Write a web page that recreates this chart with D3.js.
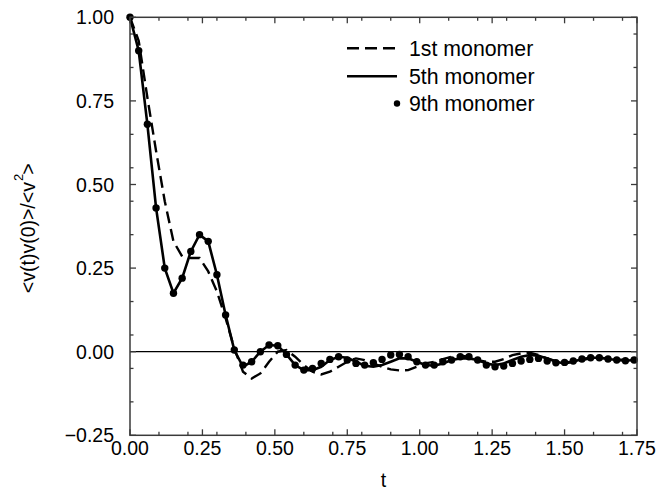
<!DOCTYPE html>
<html>
<head>
<meta charset="utf-8">
<script src="https://cdn.jsdelivr.net/npm/d3@7"></script>
<style>
  html, body { margin: 0; padding: 0; background: #fff; }
  svg { display: block; font-family: "Liberation Sans", Arial, Helvetica, sans-serif; }
</style>
</head>
<body>
<svg id="chart" width="661" height="493"></svg>
<script>
// Sampling times (dt = 0.03)
const times = [0.00,0.03,0.06,0.09,0.12,0.15,0.18,0.21,0.24,0.27,0.30,0.33,0.36,0.39,0.42,0.45,0.48,0.51,0.54,0.57,
               0.60,0.63,0.66,0.69,0.72,0.75,0.78,0.81,0.84,0.87,0.90,0.93,0.96,0.99,1.02,1.05,1.08,1.11,1.14,1.17,
               1.20,1.23,1.26,1.29,1.32,1.35,1.38,1.41,1.44,1.47,1.50,1.53,1.56,1.59,1.62,1.65,1.68,1.71,1.74];

// Normalised velocity autocorrelation of three monomers
const first = [1.00,0.93,0.76,0.60,0.45,0.33,0.285,0.28,0.28,0.24,0.18,0.10,0.01,-0.06,-0.08,-0.065,-0.03,0.00,0.005,-0.015,
               -0.04,-0.06,-0.068,-0.06,-0.045,-0.03,-0.02,-0.025,-0.035,-0.045,-0.053,-0.056,-0.055,-0.045,-0.035,-0.03,-0.022,-0.015,-0.012,-0.015,
               -0.025,-0.03,-0.03,-0.022,-0.01,-0.005,-0.003,-0.01,-0.02,-0.028,-0.032,-0.03,-0.025,-0.02,-0.018,-0.02,-0.023,-0.025,-0.025];

const fifth = [1.00,0.90,0.68,0.43,0.25,0.175,0.22,0.30,0.35,0.33,0.23,0.11,0.005,-0.045,-0.03,0.00,0.02,0.018,-0.008,-0.04,
               -0.055,-0.055,-0.045,-0.025,-0.015,-0.018,-0.03,-0.042,-0.045,-0.04,-0.03,-0.02,-0.02,-0.03,-0.04,-0.042,-0.035,-0.025,-0.02,-0.02,
               -0.025,-0.035,-0.04,-0.035,-0.025,-0.015,-0.01,-0.012,-0.02,-0.03,-0.035,-0.03,-0.022,-0.018,-0.018,-0.022,-0.025,-0.027,-0.025];

const ninth = [1.00,0.90,0.68,0.43,0.25,0.175,0.22,0.30,0.35,0.33,0.23,0.11,0.005,-0.04,-0.03,0.00,0.02,0.018,-0.008,-0.04,
               -0.055,-0.05,-0.035,-0.023,-0.015,-0.025,-0.035,-0.04,-0.033,-0.023,-0.01,-0.008,-0.015,-0.03,-0.04,-0.04,-0.03,-0.025,-0.015,-0.015,
               -0.025,-0.04,-0.045,-0.043,-0.035,-0.028,-0.023,-0.02,-0.028,-0.033,-0.032,-0.028,-0.022,-0.018,-0.018,-0.022,-0.025,-0.027,-0.025];

// Axis ticks
const xMajor = [0, 0.25, 0.5, 0.75, 1.0, 1.25, 1.5, 1.75];
const xMinor = [0.1,0.2,0.3,0.4,0.6,0.7,0.8,0.9,1.1,1.2,1.3,1.4,1.6,1.7];
const yMajor = [-0.25, 0, 0.25, 0.5, 0.75, 1.0];
const yMinor = [-0.15,-0.05,0.05,0.15,0.35,0.45,0.55,0.65,0.85,0.95];

const legendItems = ["1st monomer", "5th monomer", "9th monomer"];

const svg = d3.select("#chart");
const plotL = 130, plotR = 637, plotT = 17.3, plotB = 435.3;

const x = d3.scaleLinear().domain([0, 1.75]).range([plotL, plotR]);
const y = d3.scaleLinear().domain([-0.25, 1.0]).range([plotB, plotT]);
const fmt = d3.format(".2f");
const axisColor = "#3a3a3a";
const fontSize = 19.5;

// Zero reference line
svg.append("line")
  .attr("x1", x(0)).attr("x2", x(1.75))
  .attr("y1", y(0)).attr("y2", y(0))
  .attr("stroke", "#000").attr("stroke-width", 1.2);

// Curves
const series = times.map((t, i) => ({ t, a: first[i], b: fifth[i], c: ninth[i] }));
const lineOf = key => d3.line().x(d => x(d.t)).y(d => y(d[key]));

svg.append("path").datum(series)
  .attr("d", lineOf("a"))
  .attr("fill", "none").attr("stroke", "#000").attr("stroke-width", 2.4)
  .attr("stroke-dasharray", "12,6");

svg.append("path").datum(series)
  .attr("d", lineOf("b"))
  .attr("fill", "none").attr("stroke", "#000").attr("stroke-width", 2.6)
  .attr("stroke-linejoin", "miter");

svg.append("g").selectAll("circle").data(series).join("circle")
  .attr("cx", d => x(d.t)).attr("cy", d => y(d.c)).attr("r", 3.7)
  .attr("fill", "#000");

// Frame
svg.append("rect")
  .attr("x", plotL).attr("y", plotT)
  .attr("width", plotR - plotL).attr("height", plotB - plotT)
  .attr("fill", "none").attr("stroke", axisColor).attr("stroke-width", 1.5);

// Inward ticks on all four sides
const tickG = svg.append("g").attr("stroke", axisColor).attr("stroke-width", 1.3);
function xTicks(vals, len) {
  vals.forEach(v => {
    tickG.append("line").attr("x1", x(v)).attr("x2", x(v)).attr("y1", plotB).attr("y2", plotB - len);
    tickG.append("line").attr("x1", x(v)).attr("x2", x(v)).attr("y1", plotT).attr("y2", plotT + len);
  });
}
function yTicks(vals, len) {
  vals.forEach(v => {
    tickG.append("line").attr("y1", y(v)).attr("y2", y(v)).attr("x1", plotL).attr("x2", plotL + len);
    tickG.append("line").attr("y1", y(v)).attr("y2", y(v)).attr("x1", plotR).attr("x2", plotR - len);
  });
}
xTicks(xMajor, 6); xTicks(xMinor, 3.5);
yTicks(yMajor, 6); yTicks(yMinor, 3.5);

// Tick labels
svg.append("g").selectAll("text").data(xMajor).join("text")
  .attr("x", d => x(d)).attr("y", plotB + 19.5)
  .attr("text-anchor", "middle").attr("font-size", fontSize).attr("fill", "#000")
  .text(d => fmt(d));

svg.append("g").selectAll("text").data(yMajor).join("text")
  .attr("x", plotL - 16).attr("y", d => y(d) + 7)
  .attr("text-anchor", "end").attr("font-size", fontSize).attr("fill", "#000")
  .text(d => fmt(d));

// Axis titles
svg.append("text")
  .attr("x", (plotL + plotR) / 2).attr("y", 487)
  .attr("text-anchor", "middle").attr("font-size", fontSize).text("t");

const yTitle = svg.append("text")
  .attr("transform", `translate(35, ${(plotT + plotB) / 2 + 2}) rotate(-90)`)
  .attr("text-anchor", "middle").attr("font-size", fontSize);
yTitle.append("tspan").text("<v(t)v(0)>/<v");
yTitle.append("tspan").attr("font-size", 13).attr("dy", -12).attr("dx", 1).text("2");
yTitle.append("tspan").attr("dy", 12).attr("dx", -1).text(">");

// Legend
const legY = [48.3, 76.2, 103.5];
const lg = svg.append("g");
lg.append("line").attr("x1", 347).attr("x2", 397).attr("y1", legY[0]).attr("y2", legY[0])
  .attr("stroke", "#000").attr("stroke-width", 2.4).attr("stroke-dasharray", "12,6");
lg.append("line").attr("x1", 347).attr("x2", 397).attr("y1", legY[1]).attr("y2", legY[1])
  .attr("stroke", "#000").attr("stroke-width", 2.6);
lg.append("circle").attr("cx", 397).attr("cy", legY[2]).attr("r", 3.2).attr("fill", "#000");
lg.selectAll("text").data(legendItems).join("text")
  .attr("x", 409).attr("y", (d, i) => legY[i] + 7.5)
  .attr("font-size", 21.3).attr("fill", "#000")
  .text(d => d);
</script>
</body>
</html>
